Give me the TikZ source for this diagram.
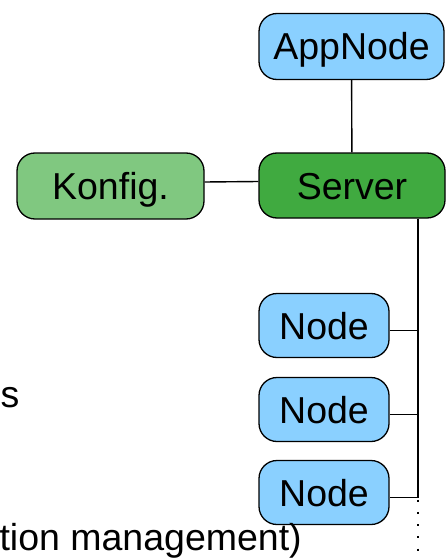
\documentclass[tikz,border=0pt]{standalone}
\usepackage{fontspec}
\setmainfont{Liberation Sans}
\definecolor{nodeblue}{HTML}{8AD0FF}
\definecolor{servergreen}{HTML}{40AA40}
\definecolor{confgreen}{HTML}{80C880}
\tikzset{
  box/.style={draw=black, line width=1.3pt, rounded corners=18pt,
    inner sep=0pt, text height=27pt, text depth=0pt,
    font=\fontsize{37.5}{42}\selectfont},
  appbox/.style={box, fill=nodeblue, minimum width=185pt, minimum height=66pt},
  nodebox/.style={box, fill=nodeblue, minimum width=130pt, minimum height=64pt},
  serverbox/.style={box, fill=servergreen, minimum width=186pt, minimum height=65pt},
  confbox/.style={box, fill=confgreen, minimum width=187pt, minimum height=66pt},
  link/.style={draw=black, line width=1.4pt},
  more/.style={draw=black, line width=1.5pt, dash pattern=on 2pt off 10.3pt, dash phase=-2pt},
  label/.style={inner sep=0pt, font=\fontsize{37.5}{42}\selectfont}
}
\begin{document}
\begin{tikzpicture}[x=1pt, y=-1pt]
  \useasboundingbox (0,0) rectangle (447,559);

  % boxes
  \node[appbox]    (app)    at (351.5, 46.5)  {AppNode};
  \node[serverbox] (server) at (352, 185.5)   {Server};
  \node[confbox]   (conf)   at (110.5, 186)   {Konfig.};
  \node[nodebox]   (n1)     at (324, 325.5)   {Node};
  \node[nodebox]   (n2)     at (324, 409.5)   {Node};
  \node[nodebox]   (n3)     at (324, 492.5)   {Node};

  % text fragments on the left
  \node[label, anchor=base east] (frag1) at (19.5, 407) {s};
  \node[label, anchor=base east] (frag2) at (302, 550) {tion management)};

  % connectors
  \draw[link] (app) -- (server);
  \draw[link] ([yshift=4pt]conf.east) -- ([yshift=4pt]server.west);

  \coordinate (trunk) at ([xshift=66pt]server.south);
  \coordinate (trunkend) at (418, 559);
  \draw[link] (trunk) |- ([yshift=-5pt]n3.east);
  \draw[link] ([yshift=-5pt]n1.east) -- ([yshift=-5pt]n1.east -| trunk);
  \draw[link] ([yshift=-5pt]n2.east) -- ([yshift=-5pt]n2.east -| trunk);
  \draw[more] ([yshift=-5pt]n3.east -| trunk) -- (trunkend);
\end{tikzpicture}
\end{document}
